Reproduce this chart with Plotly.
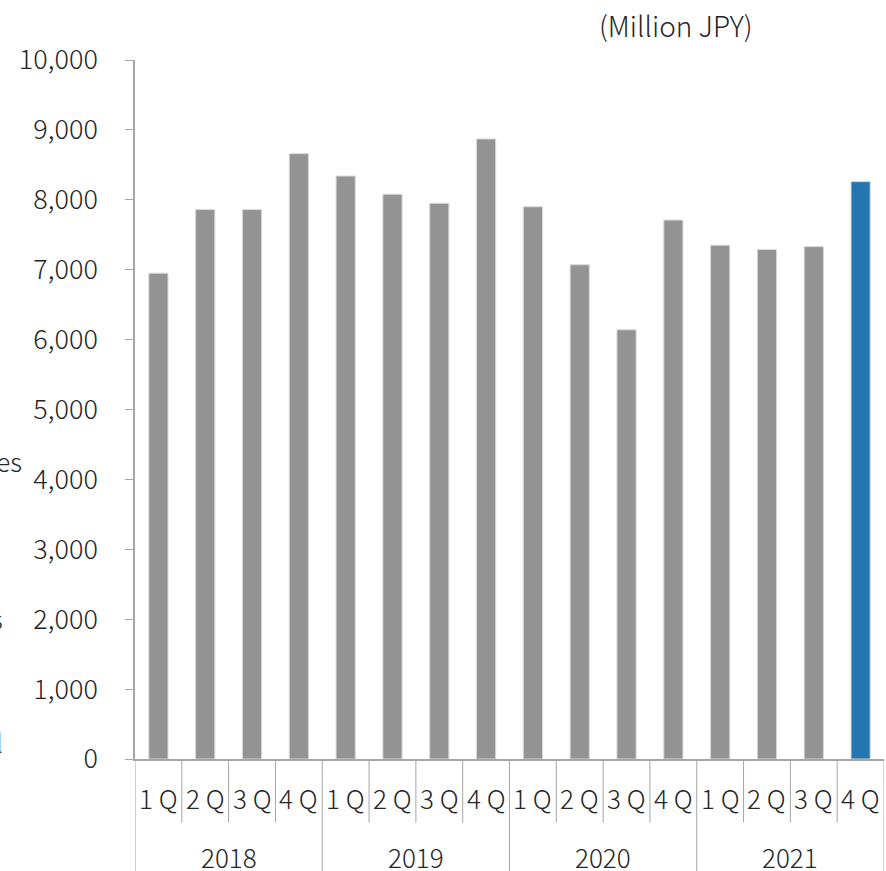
import plotly.graph_objects as go

# Quarterly sales, million JPY
years = ["2018", "2019", "2020", "2021"]
quarters = ["1 Q", "2 Q", "3 Q", "4 Q"]
sales = [6950, 7860, 7860, 8660,
         8340, 8080, 7950, 8870,
         7900, 7070, 6140, 7710,
         7350, 7290, 7330, 8260]
y_ticks = [0, 1000, 2000, 3000, 4000, 5000, 6000, 7000, 8000, 9000, 10000]

GREY = "#939393"
BLUE = "#2475b0"
LINE = "#a6a6a6"
TEXT = "#262626"
FONT = "Noto Sans CJK JP"
FS = 26
W = 300

n = len(sales)
idx = list(range(n))
colors = [GREY] * (n - 1) + [BLUE]

fig = go.Figure(go.Bar(
    x=idx, y=sales,
    marker=dict(color=colors, line=dict(color="#d9d9d9", width=1)),
    width=0.41,
    hoverinfo="y",
))

shapes = []
annotations = []


def label(x, y, text, xref="x", xanchor="center", size=FS):
    return dict(x=x, y=y, xref=xref, yref="paper", text=text,
                showarrow=False, xanchor=xanchor, yanchor="middle",
                font=dict(family=FONT, size=size, color=TEXT, weight=W))


# quarter labels and quarter dividers
for i in idx:
    annotations.append(label(i, -0.0545, quarters[i % 4]))
for b in range(1, n):
    if b % 4 != 0:
        shapes.append(dict(type="line", xref="x", yref="paper",
                           x0=b - 0.5, x1=b - 0.5, y0=0, y1=-0.091,
                           line=dict(color=LINE, width=1)))

# year labels and year dividers
for k, yr in enumerate(years):
    annotations.append(label(4 * k + 1.5, -0.139, yr))
for k in range(len(years) + 1):
    shapes.append(dict(type="line", xref="x", yref="paper",
                       x0=4 * k - 0.5, x1=4 * k - 0.5, y0=0, y1=-0.18,
                       line=dict(color=LINE, width=1)))

# unit label
annotations.append(label(0.722, 1.05, "(Million JPY)", xref="paper", size=28))

# text of the neighbouring panel running off the left edge
annotations += [
    label(-0.148, 0.427, "Net Sales", xref="paper", xanchor="right"),
    label(-0.174, 0.203, "s", xref="paper", xanchor="right"),
    label(-0.1735, 0.025, "l", xref="paper", xanchor="right"),
]

fig.update_layout(
    width=886, height=871,
    margin=dict(l=135, r=2, t=60, b=112),
    paper_bgcolor="white", plot_bgcolor="white",
    showlegend=False,
    shapes=shapes,
    annotations=annotations,
    xaxis=dict(
        range=[-0.5, n - 0.5],
        showticklabels=False, ticks="",
        showline=True, linecolor=LINE, linewidth=1.5,
        showgrid=False, zeroline=False, fixedrange=True,
    ),
    yaxis=dict(
        range=[0, 10000],
        tickvals=y_ticks,
        ticktext=[f"{v:,}" for v in y_ticks],
        ticks="outside", ticklen=8, tickcolor=LINE, tickwidth=1,
        ticklabelstandoff=22,
        tickfont=dict(family=FONT, size=27, color=TEXT, weight=W),
        showline=True, linecolor=LINE, linewidth=1.5,
        showgrid=False, zeroline=False, fixedrange=True,
    ),
)

fig.write_html("out.html")
